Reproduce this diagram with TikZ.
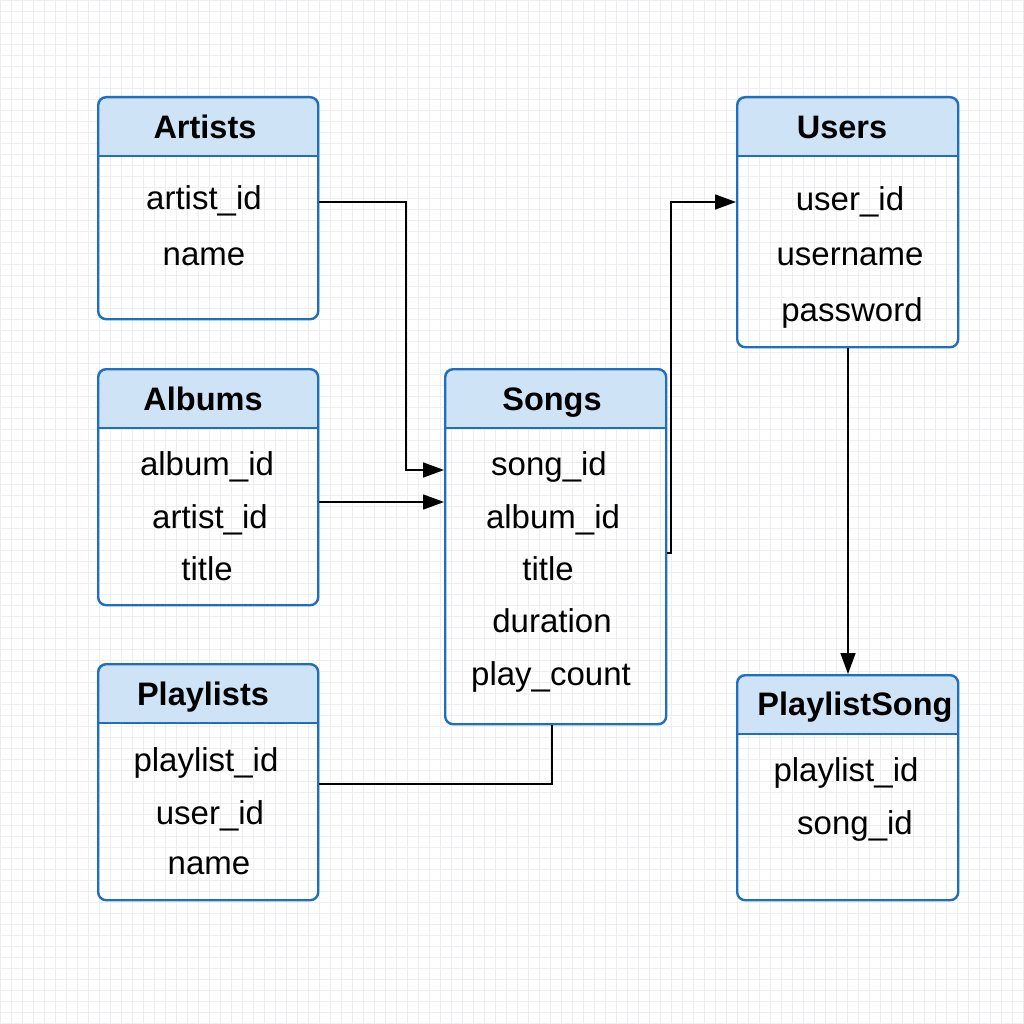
\documentclass[tikz,border=0pt]{standalone}
\usepackage{fontspec}
\setmainfont{Liberation Sans}
\usetikzlibrary{arrows.meta}
\definecolor{bblue}{HTML}{1F6FC0}
\definecolor{hdr}{HTML}{CFE3F7}
\definecolor{gridc}{HTML}{EEEEF1}
\tikzset{
  tbox/.style={draw=bblue, line width=2.4pt, rounded corners=8pt, inner sep=0pt, anchor=north west},
  ttl/.style={font=\fontsize{32.5}{38}\selectfont\bfseries, inner sep=0pt, text height=23pt, text depth=0pt, anchor=center},
  fld/.style={font=\fontsize{33}{40}\selectfont, inner sep=0pt, text height=24pt, text depth=0pt, anchor=center},
  conn/.style={line width=1.6pt, black},
  arr/.style={conn, -{Triangle[length=21pt,width=15pt]}},
}
% name, x1, y1, x2, y2, header bottom
\newcommand\ertable[6]{%
  \fill[hdr] (#2,#6) [rounded corners=8pt] -- (#2,#3) -- (#4,#3) [sharp corners] -- (#4,#6) -- cycle;
  \node[tbox, minimum width={#4pt-#2pt}, minimum height={#5pt-#3pt}] (#1) at (#2,#3) {};
  \draw[bblue, line width=2.4pt] (#2,#6) -- (#4,#6);
}
\begin{document}
\begin{tikzpicture}[x=1pt, y=-1pt]
\useasboundingbox (0,0) rectangle (1024,1024);
\fill[white] (0,0) rectangle (1024,1024);
\foreach \g in {0,11,...,1023} {
  \draw[gridc, line width=0.7pt] (\g,0) -- (\g,1024);
  \draw[gridc, line width=0.7pt] (0,\g) -- (1024,\g);
}

% Artists
\ertable{artists}{97}{96}{317}{318}{156}
\node[ttl] (artists-t) at (205,127) {Artists};
\node[fld] (artists-r1) at (204,198) {artist\_id};
\node[fld] (artists-r2) at (204,253) {name};

% Albums
\ertable{albums}{97}{368}{317}{604}{428}
\node[ttl] (albums-t) at (203,399) {Albums};
\node[fld] (albums-r1) at (207,463) {album\_id};
\node[fld] (albums-r2) at (210,516) {artist\_id};
\node[fld] (albums-r3) at (207,568) {title};

% Playlists
\ertable{playlists}{97}{663}{317}{899}{723}
\node[ttl] (playlists-t) at (203,694) {Playlists};
\node[fld] (playlists-r1) at (206,759) {playlist\_id};
\node[fld] (playlists-r2) at (210,812) {user\_id};
\node[fld] (playlists-r3) at (209,862) {name};

% Songs
\ertable{songs}{444}{368}{665}{723}{428}
\node[ttl] (songs-t) at (552,399) {Songs};
\node[fld] (songs-r1) at (549,463) {song\_id};
\node[fld] (songs-r2) at (553,516) {album\_id};
\node[fld] (songs-r3) at (548,568) {title};
\node[fld] (songs-r4) at (552,620) {duration};
\node[fld] (songs-r5) at (551,673) {play\_count};

% Users
\ertable{users}{736}{96}{957}{346}{156}
\node[ttl] (users-t) at (842,127) {Users};
\node[fld] (users-r1) at (850,199) {user\_id};
\node[fld] (users-r2) at (850,253) {username};
\node[fld] (users-r3) at (852,309) {password};

% PlaylistSong
\ertable{plsong}{736}{674}{957}{899}{734}
\node[ttl] (plsong-t) at (855,704) {PlaylistSong};
\node[fld] (plsong-r1) at (846,769) {playlist\_id};
\node[fld] (plsong-r2) at (855,822) {song\_id};

% connectors
\draw[arr] (artists.east |- 0,202) -| (406,470) -- (songs.west |- 0,470);
\draw[arr] (albums.east |- 0,502) -- (songs.west |- 0,502);
\draw[arr] (songs.east |- 0,553) -- (671,553) |- (users.west |- 0,202);
\draw[arr] (users.south -| 848,0) -- (plsong.north -| 848,0);
\draw[conn] (songs.south -| 552,0) |- (playlists.east |- 0,784);
\end{tikzpicture}
\end{document}
